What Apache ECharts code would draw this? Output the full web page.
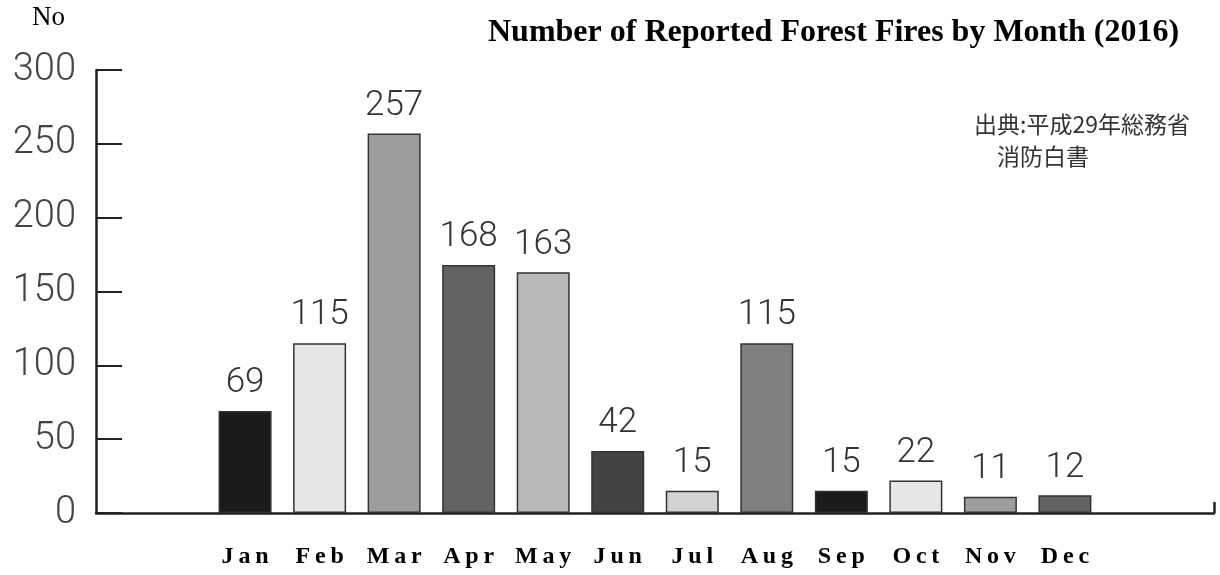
<!DOCTYPE html>
<html>
<head>
<meta charset="utf-8">
<script src="https://cdn.jsdelivr.net/npm/echarts@6/dist/echarts.min.js"></script>
<style>
  html, body { margin: 0; padding: 0; background: #fff; }
  #chart { width: 1220px; height: 575px; }
</style>
</head>
<body>
<div id="chart"></div>
<script>
// data
const months = ["Jan", "Feb", "Mar", "Apr", "May", "Jun", "Jul", "Aug", "Sep", "Oct", "Nov", "Dec"];
const fires = [69, 115, 257, 168, 163, 42, 15, 115, 15, 22, 11, 12];
const yTicks = [0, 50, 100, 150, 200, 250, 300];

// bar fills, repeating grey pattern
const barColors = ["#1b1b1b", "#e6e6e6", "#9e9e9e", "#636363", "#b9b9b9", "#434343",
                   "#d3d3d3", "#7f7f7f", "#1b1b1b", "#e6e6e6", "#9e9e9e", "#636363"];

// two empty slots each side so the axis runs past the bars
const pad = 2;
const cats = ["", " "].concat(months, ["  ", "   "]);
const values = [null, null].concat(fires, [null, null]);

let chart = echarts.init(document.getElementById("chart"));

let option = {
  animation: false,
  backgroundColor: "#fff",
  title: {
    text: "Number of Reported Forest Fires by Month (2016)",
    left: 483,
    top: 12,
    textStyle: {
      fontFamily: "Liberation Serif",
      fontWeight: "bold",
      fontSize: 32,
      color: "#000"
    }
  },
  graphic: [
    {
      type: "text",
      left: 32,
      top: 4,
      style: { text: "No", font: "27px 'Liberation Serif'", fill: "#000" }
    },
    {
      type: "text",
      left: 974,
      top: 108,
      style: {
        text: "出典:平成29年総務省\n\u3000消防白書",
        font: "23px 'Noto Sans CJK JP'",
        lineHeight: 32,
        fill: "#333"
      }
    }
  ],
  grid: {
    left: 96,
    right: 6,
    top: 70,
    bottom: 62,
    outerBoundsMode: "none"
  },
  xAxis: {
    type: "category",
    data: cats,
    boundaryGap: false,
    axisLine: { lineStyle: { color: "#222", width: 2.5 } },
    axisTick: {
      inside: true,
      length: 11,
      interval: (i) => i === cats.length - 1,
      lineStyle: { color: "#222", width: 2.5 }
    },
    axisLabel: {
      interval: 0,
      margin: 32,
      fontFamily: "Liberation Serif",
      fontWeight: "bold",
      fontSize: 24,
      color: "#000",
      formatter: (v) => v.split("").join("\u2009")
    }
  },
  yAxis: {
    type: "value",
    min: yTicks[0],
    max: yTicks[yTicks.length - 1],
    interval: 50,
    splitLine: { show: false },
    axisLine: { show: true, lineStyle: { color: "#222", width: 2.5 } },
    axisTick: {
      show: true,
      inside: true,
      length: 26,
      lineStyle: { color: "#222", width: 2 }
    },
    axisLabel: {
      margin: 20,
      fontFamily: "Roboto",
      fontWeight: 300,
      fontSize: 38,
      color: "#444"
    }
  },
  series: [
    {
      type: "bar",
      data: values,
      barWidth: 53,
      itemStyle: {
        color: (p) => barColors[p.dataIndex - pad] || "#999",
        borderColor: "#333",
        borderWidth: 1.5
      },
      label: {
        show: true,
        position: "top",
        distance: 10,
        fontFamily: "Roboto",
        fontWeight: 300,
        fontSize: 35,
        color: "#333"
      }
    }
  ]
};

chart.setOption(option);
</script>
</body>
</html>
